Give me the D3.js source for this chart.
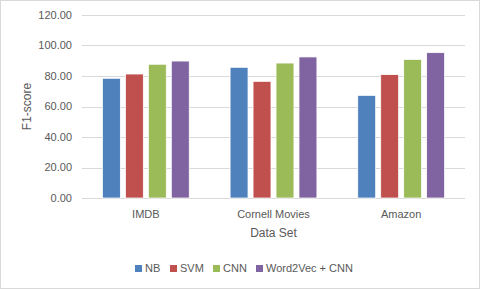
<!DOCTYPE html>
<html>
<head>
<meta charset="utf-8">
<script src="https://cdn.jsdelivr.net/npm/d3@7"></script>
<style>
  body { margin: 0; background: #fff; }
  text { font-family: "Liberation Sans", Arial, sans-serif; fill: #595959; }
</style>
</head>
<body>
<div id="vis"></div>
<script>
// chart data
const datasets = ["IMDB", "Cornell Movies", "Amazon"];
const methods = ["NB", "SVM", "CNN", "Word2Vec + CNN"];
const nbScores = [78.5, 85.7, 67.3];
const svmScores = [81.3, 76.5, 80.9];
const cnnScores = [87.7, 88.5, 90.9];
const w2vScores = [89.8, 92.5, 95.3];
const yTicks = [0, 20, 40, 60, 80, 100, 120];
const colors = ["#4F81BD", "#C0504D", "#9BBB59", "#8064A2"];

const seriesValues = [nbScores, svmScores, cnnScores, w2vScores];

const W = 480, H = 289;
const margin = {top: 15, right: 15, bottom: 91, left: 82};
const width = W - margin.left - margin.right,
      height = H - margin.top - margin.bottom;

const root = d3.select("#vis").append("svg")
    .attr("width", W)
    .attr("height", H);

// outer border
root.append("rect")
    .attr("x", 0.5).attr("y", 0.5)
    .attr("width", W - 1).attr("height", H - 1)
    .attr("fill", "#fff")
    .attr("stroke", "#d9d9d9");

const svg = root.append("g")
    .attr("transform", "translate(" + margin.left + "," + margin.top + ")");

const x = d3.scaleBand()
    .domain(datasets)
    .range([0, width]);

const inner = d3.scaleBand()
    .domain(methods)
    .range([0, x.bandwidth() * 0.68])
    .paddingInner(0.22);

const y = d3.scaleLinear()
    .domain([0, 120])
    .range([height, 0]);

// gridlines
svg.append("g")
    .selectAll("line")
    .data(yTicks)
  .enter().append("line")
    .attr("x1", 0).attr("x2", width)
    .attr("y1", d => Math.round(y(d)) + 0.5)
    .attr("y2", d => Math.round(y(d)) + 0.5)
    .attr("stroke", "#d9d9d9");

// y axis labels
svg.append("g")
    .selectAll("text")
    .data(yTicks)
  .enter().append("text")
    .attr("x", -10)
    .attr("y", d => y(d))
    .attr("dy", "0.35em")
    .attr("text-anchor", "end")
    .style("font-size", "11px")
    .text(d => d.toFixed(2));

// bars
const groupOffset = (x.bandwidth() - inner.range()[1]) / 2;
methods.forEach((m, i) => {
    svg.append("g")
        .selectAll("rect")
        .data(seriesValues[i])
      .enter().append("rect")
        .attr("x", (d, j) => x(datasets[j]) + groupOffset + inner(m))
        .attr("width", inner.bandwidth())
        .attr("y", d => y(d))
        .attr("height", d => height - y(d))
        .attr("fill", colors[i])
        .attr("stroke", "#fff")
        .attr("stroke-width", 0.75);
});

// x axis labels
svg.append("g")
    .selectAll("text")
    .data(datasets)
  .enter().append("text")
    .attr("x", d => x(d) + x.bandwidth() / 2)
    .attr("y", height + 20)
    .attr("text-anchor", "middle")
    .style("font-size", "11px")
    .text(d => d);

// axis titles
svg.append("text")
    .attr("x", width / 2)
    .attr("y", height + 39)
    .attr("text-anchor", "middle")
    .style("font-size", "12px")
    .text("Data Set");

svg.append("text")
    .attr("transform", "translate(" + (-51) + "," + (height / 2) + ") rotate(-90)")
    .attr("text-anchor", "middle")
    .style("font-size", "12px")
    .text("F1-score");

// legend
const legendX = [135, 170, 213, 256];
const legend = root.append("g");
methods.forEach((m, i) => {
    legend.append("rect")
        .attr("x", legendX[i]).attr("y", 265)
        .attr("width", 7).attr("height", 7)
        .attr("fill", colors[i]);
    legend.append("text")
        .attr("x", legendX[i] + 10)
        .attr("y", 272)
        .style("font-size", "11px")
        .text(m);
});
</script>
</body>
</html>
